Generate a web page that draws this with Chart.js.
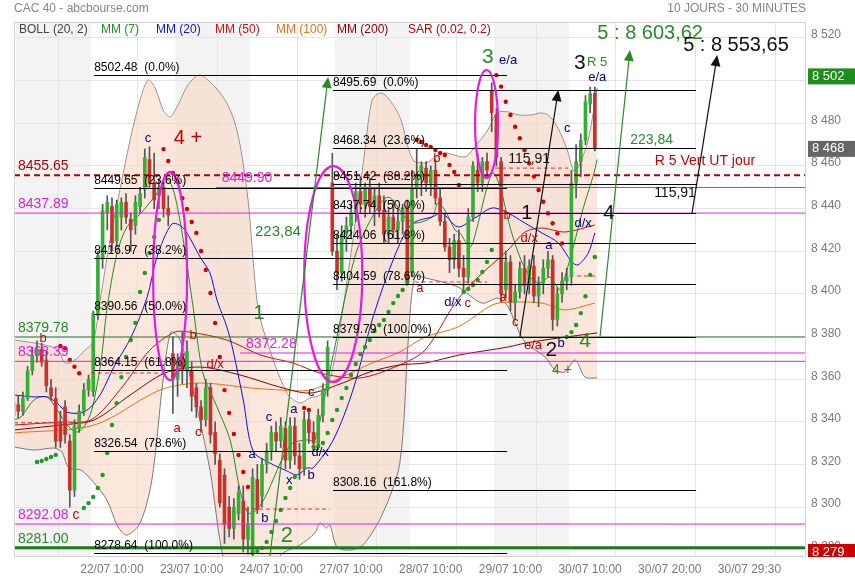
<!DOCTYPE html>
<html lang="fr">
<head>
<meta charset="UTF-8">
<title>CAC 40 - 10 jours - 30 minutes</title>
<script src="https://cdn.jsdelivr.net/npm/chart.js"></script>
<style>
  html, body { margin: 0; padding: 0; background: #fff; }
  canvas { display: block; }
</style>
</head>
<body>
<canvas id="graphique" width="855" height="580"></canvas>
<script>
// bougies de 30 minutes, index 0 = 21/07 9h00, 17 bougies par séance
const ouverture = [
  8343,8348,8345,8351,8364,8371,8374,8369,8356,8351,8340,8347,8331,8308,8337,8345,8355,
  8354,8390,8417,8438,8441,8425,8436,8443,8435,8432,8441,8449,8463,8452,8446,8450,8440,
  8372,8360,8372,8364,8364,8356,8347,8341,8356,8335,8322,8315,8300,8290,8297,8303,8285,
  8279,8313,8305,8320,8326,8335,8331,8337,8322,8338,8324,8318,8341,8335,8330,8343,8355,
  8452,8420,8410,8428,8432,8438,8448,8442,8450,8441,8446,8439,8428,8436,8430,8434,8441,
  8410,8450,8455,8459,8452,8458,8445,8434,8422,8416,8425,8412,8408,8436,8458,8452,8462,
  8495,8484,8462,8402,8415,8396,8401,8412,8404,8413,8399,8405,8412,8416,8388,8400,8406,
  8408,8452,8462,8472,8489,8494
];
const haut = [
  8352,8352,8354,8366,8375,8378,8377,8373,8360,8356,8345,8350,8334,8341,8348,8358,8362,
  8392,8420,8442,8446,8445,8444,8445,8447,8438,8446,8450,8468,8469,8466,8454,8452,8446,
  8380,8372,8382,8378,8368,8358,8350,8360,8358,8340,8325,8318,8305,8304,8310,8310,8300,
  8318,8320,8323,8330,8338,8340,8342,8340,8342,8342,8330,8345,8345,8340,8346,8358,8378,
  8466,8428,8432,8436,8442,8452,8455,8452,8454,8450,8452,8446,8440,8444,8440,8442,8444,
  8458,8468,8462,8462,8460,8463,8450,8438,8426,8428,8430,8418,8440,8462,8466,8464,8466,
  8499,8487,8464,8420,8418,8404,8415,8418,8416,8418,8408,8416,8420,8418,8403,8410,8412,
  8458,8470,8475,8493,8497,8497
];
const bas = [
  8339,8342,8343,8350,8362,8368,8366,8354,8350,8328,8328,8330,8300,8305,8335,8343,8352,
  8352,8388,8412,8430,8420,8422,8430,8433,8420,8428,8438,8445,8450,8440,8440,8436,8432,
  8344,8352,8358,8356,8345,8342,8335,8338,8330,8320,8300,8283,8286,8285,8294,8279,8278,
  8277,8297,8300,8316,8322,8326,8328,8318,8318,8320,8313,8315,8330,8326,8327,8340,8352,
  8418,8402,8406,8420,8426,8434,8438,8436,8438,8432,8436,8424,8424,8426,8424,8428,8404,
  8408,8445,8446,8448,8446,8442,8432,8420,8410,8412,8408,8402,8405,8434,8448,8448,8454,
  8476,8460,8396,8398,8392,8388,8398,8400,8400,8396,8394,8400,8408,8383,8385,8396,8402,
  8404,8445,8455,8470,8485,8467
];
const cloture = [
  8349,8345,8351,8364,8371,8374,8368,8357,8352,8331,8331,8334,8308,8338,8345,8355,8360,
  8391,8418,8439,8443,8424,8442,8443,8436,8430,8443,8447,8464,8452,8444,8450,8440,8437,
  8360,8368,8364,8373,8352,8347,8341,8356,8334,8325,8302,8292,8290,8300,8307,8285,8292,
  8314,8299,8320,8326,8335,8331,8338,8322,8338,8324,8318,8341,8335,8330,8343,8355,8375,
  8420,8410,8428,8432,8438,8448,8442,8450,8441,8446,8439,8428,8436,8430,8434,8440,8406,
  8450,8455,8460,8452,8458,8445,8434,8422,8416,8425,8412,8408,8436,8460,8452,8462,8458,
  8485,8464,8400,8415,8396,8401,8412,8404,8413,8399,8405,8412,8416,8388,8400,8406,8408,
  8452,8462,8472,8490,8494,8468
];

// moyennes mobiles et bandes de Bollinger: [index, cours]
const mm7 = [[0.1,8340.9],[1.6,8342.3],[4.4,8350.3],[7.1,8351.7],[9.3,8345.6],[11.8,8337.6],[13.5,8335.2],[15.0,8337.6],[16.7,8345.6],[18.7,8369.0],[19.9,8392.5],[22.1,8419.2],[24.2,8431.4],[27.2,8437.9],[30.0,8445.4],[31.5,8450.1],[33.0,8453.4],[34.4,8446.3],[36.2,8425.3],[38.3,8393.9],[40.4,8362.9],[43.4,8347.0],[46.2,8331.5],[48.3,8308.0],[50.0,8297.3],[51.9,8298.7],[54.1,8306.6],[57.5,8323.5],[59.6,8330.1],[62.6,8331.5],[64.3,8331.5],[67.5,8364.3],[72.8,8417.3],[76.5,8436.1],[79.9,8445.4],[83.5,8436.1],[85.6,8433.2],[89.3,8436.1],[90.5,8442.6],[92.0,8439.3],[94.2,8429.9],[95.2,8428.6],[97.4,8422.0],[98.9,8431.4],[101.0,8450.1],[102.3,8456.7],[103.8,8450.1],[105.9,8431.4],[108.0,8417.3],[110.2,8407.9],[112.3,8405.1],[114.4,8407.9],[116.6,8401.8],[117.6,8407.9],[119.4,8422.0],[121.5,8440.0],[123.6,8455.0],[124.5,8463.0]];
const mm20 = [[0.1,8352.6],[4.4,8351.7],[7.1,8351.7],[9.3,8348.8],[11.4,8344.6],[14.4,8344.2],[16.5,8347.0],[18.7,8353.5],[21.4,8365.7],[25.1,8379.8],[28.5,8398.5],[30.6,8417.3],[33.8,8432.8],[36.2,8430.9],[39.8,8417.3],[41.9,8409.8],[43.4,8397.1],[45.5,8384.5],[46.8,8373.7],[49.0,8350.3],[51.1,8326.3],[54.7,8320.7],[58.3,8317.0],[60.5,8315.1],[62.6,8318.4],[63.9,8318.4],[68.2,8331.5],[72.4,8354.9],[76.5,8387.8],[79.9,8409.8],[83.5,8428.6],[85.6,8433.7],[89.3,8436.1],[91.4,8437.9],[94.8,8431.4],[98.4,8435.6],[102.1,8440.3],[105.5,8437.9],[109.1,8433.2],[112.7,8428.6],[116.2,8423.9],[119.1,8415.0],[120.4,8413.6],[122.6,8419.2],[124.0,8428.6]];
const mm50 = [[0.1,8338.5],[9.9,8339.9],[16.5,8340.9],[22.7,8355.0],[29.1,8373.7],[34.4,8382.1],[37.6,8382.1],[45.5,8378.4],[52.6,8371.4],[59.6,8367.6],[65.4,8362.9],[73.9,8360.6],[82.4,8366.7],[87.8,8373.7],[94.2,8395.7],[98.4,8406.5],[105.5,8420.6],[109.1,8429.0],[112.7,8430.9],[117.6,8429.0],[124.0,8432.3]];
const mm100 = [[0.1,8334.8],[17.2,8338.5],[31.2,8354.9],[39.8,8358.2],[50.5,8355.9],[57.5,8354.9],[63.2,8354.9],[69.6,8360.6],[76.5,8367.6],[82.4,8372.8],[87.8,8379.8],[94.8,8384.5],[102.1,8394.8],[105.5,8396.2],[112.7,8395.7],[117.6,8392.5],[124.0,8395.7]];
const mm200 = [[0.1,8336.2],[9.9,8338.5],[17.2,8340.9],[24.9,8352.6],[32.3,8362.9],[39.8,8365.7],[48.3,8362.0],[56.8,8356.3],[63.2,8353.5],[69.6,8357.7],[76.0,8363.4],[82.4,8366.7],[87.8,8367.6],[95.2,8371.4],[105.5,8375.1],[109.1,8376.9],[116.2,8379.3],[124.5,8381.7]];
const bollHaut = [[0.1,8378.4],[6.7,8376.0],[9.5,8373.7],[11.0,8367.6],[13.1,8369.0],[15.3,8373.7],[17.0,8377.4],[18.5,8397.1],[20.6,8425.3],[22.7,8448.7],[24.9,8472.2],[27.0,8490.9],[28.7,8500.3],[30.2,8496.5],[31.9,8486.2],[33.4,8482.9],[35.1,8488.6],[37.2,8497.9],[39.6,8502.6],[41.9,8499.4],[44.7,8492.3],[46.8,8482.9],[48.3,8469.8],[50.0,8444.0],[51.9,8397.1],[53.6,8380.7],[58.3,8353.5],[61.1,8348.8],[63.2,8351.2],[65.4,8352.6],[67.9,8362.9],[71.8,8415.9],[75.0,8467.5],[76.5,8490.9],[78.2,8494.2],[79.7,8492.3],[82.4,8482.9],[85.2,8462.8],[88.2,8461.4],[89.9,8464.2],[92.0,8466.1],[96.3,8464.2],[98.4,8468.9],[101.2,8476.9],[103.1,8484.8],[105.5,8485.3],[107.6,8483.9],[110.6,8483.9],[112.3,8484.8],[114.0,8483.9],[115.5,8480.1],[117.0,8473.6],[118.3,8466.1],[119.4,8458.1],[120.4,8459.0],[122.6,8472.2],[124.5,8496.5]];
const bollBas = [[0.1,8328.2],[4.4,8326.8],[8.6,8327.7],[10.3,8325.9],[11.8,8318.4],[14.4,8317.4],[17.2,8311.3],[19.9,8303.4],[22.3,8290.7],[24.2,8286.9],[27.0,8292.6],[29.5,8312.7],[31.9,8359.6],[33.6,8382.1],[35.5,8378.4],[38.3,8354.9],[41.9,8317.4],[44.7,8276.6],[47.5,8262.0],[51.9,8255.0],[56.8,8277.1],[61.1,8282.3],[64.3,8287.9],[65.4,8292.6],[66.7,8290.2],[67.5,8291.6],[69.0,8281.3],[71.8,8279.9],[74.6,8282.3],[78.8,8297.3],[82.4,8320.7],[84.2,8378.4],[85.6,8407.9],[87.8,8407.5],[94.8,8403.2],[99.9,8395.7],[103.4,8398.0],[105.5,8393.9],[107.0,8386.4],[109.1,8377.4],[113.4,8370.4],[115.5,8364.3],[117.6,8363.4],[119.8,8369.0],[121.9,8361.0],[124.5,8360.6]];

// SAR (0.02, 0.2)
const sarRougeX = [10,11,12,13,14, 32,33,34,35,36,37,38,39,40,41,42,43,44,45,46,47,48,49,50, 62,63, 86,87,88,89,90,91,92,93,94,95, 103,104,105,106,107,108,109,110,111,112,113,114,115,116,117];
const sarRougeY = [8375.6,8374.5,8369.0,8365.9,8362.8, 8467.9,8462.3,8456.7,8452.5,8444.9,8439.8,8433.7,8428.6,8420.1,8411.2,8400.4,8386.4,8370.4,8354.9,8344.2,8334.3,8324.5,8316.5,8309.5, 8346.5,8345.6, 8472.2,8471.2,8469.8,8468.9,8467.5,8466.1,8465.1,8460.5,8457.2,8451.1, 8502.6,8497.2,8490.1,8483.9,8478.4,8473.0,8467.5,8461.2,8455.0,8448.7,8443.2,8437.8,8433.1,8428.4,8423.7];
const sarVertX = [5,6,7,8,9, 15,16,17,18,19,20,21,22,23,24,25,26,27,28,29,30,31, 51,52,53,54,55,56,57,58,59,60, 64,65,66,67,68,69,70,71,72,73,74,75,76,77,78,79,80,81,82,83,84, 96,97,98,99,100,101,102, 118,119,120,121,122,123,124];
const sarVertY = [8321.2,8321.7,8322.6,8323.5,8324.5, 8299.6,8301.9,8304.8,8309.0,8315.1,8325.4,8338.5,8348.8,8361.0,8370.4,8378.4,8386.4,8400.9,8409.8,8419.2,8426.7,8434.7, 8278.5,8279.4,8280.9,8283.7,8288.4,8293.5,8298.7,8304.3,8309.0,8314.1, 8328.2,8328.7,8330.1,8334.8,8340.9,8345.6,8351.2,8355.9,8362.0,8367.1,8371.8,8375.1,8378.4,8382.6,8385.4,8387.8,8391.5,8395.7,8399.0,8401.8,8405.6, 8400.9,8402.3,8404.2,8406.5,8410.3,8415.0,8420.6, 8379.8,8382.1,8385.4,8391.0,8398.9,8408.9,8417.3];

// retracements de Fibonacci et niveaux tracés
const fibGauche = [8502.48, 8449.65, 8416.97, 8390.56, 8364.15, 8326.54, 8278.64];
const fibGauchePct = ['0.0%', '23.6%', '38.2%', '50.0%', '61.8%', '78.6%', '100.0%'];
const fibDroite = [8495.69, 8468.34, 8451.42, 8437.74, 8424.06, 8404.59, 8379.79, 8308.16];
const fibDroitePct = ['0.0%', '23.6%', '38.2%', '50.0%', '61.8%', '78.6%', '100.0%', '161.8%'];
const niveaux = [8455.65, 8437.89, 8379.78, 8368.39, 8372.28, 8449.90, 8292.08, 8281.00];
const coursAxe = [8502, 8468, 8279];

// axe des temps
const ticksIdx = [18, 35, 52, 69, 86, 103, 120, 137, 154];
const ticksTexte = ['22/07 10:00', '23/07 10:00', '24/07 10:00', '27/07 10:00', '28/07 10:00', '29/07 10:00', '30/07 10:00', '30/07 20:00', '30/07 29:30'];
const ticksCours = [8280, 8300, 8320, 8340, 8360, 8380, 8400, 8420, 8440, 8460, 8480, 8500, 8520];

// ---------- mise en forme ----------
const VERT = '#33b033', ROUGE = '#c9302b';
const MAGENTA = '#e020e0', BLEU = '#000080', RGE = '#c80000', VRT = '#2a8a2a';
const joursGris = [[0.5, 16.5], [34.5, 50.5], [68.5, 84.5], [102.5, 118.5]];
const fibGaucheDe = [17.2, 105.3];
const fibDroiteDe = [68.15, 145.6];
const styleNiveaux = [
  { couleur: '#b00000', ep: 2, tirets: [6, 4], de: null, texte: null, taille: 14 },
  { couleur: MAGENTA, ep: 1, tirets: [], de: null, texte: null, taille: 14 },
  { couleur: '#2a7a2a', ep: 1, tirets: [], de: null, texte: null, taille: 14 },
  { couleur: MAGENTA, ep: 1, tirets: [], de: null, texte: null, taille: 14 },
  { couleur: MAGENTA, ep: 1, tirets: [], de: 48.3, texte: 49.6, taille: 14 },
  { couleur: MAGENTA, ep: 1, tirets: [], de: 43.2, texte: 44.4, taille: 14 },
  { couleur: MAGENTA, ep: 1, tirets: [], de: null, texte: null, taille: 14 },
  { couleur: '#1d7a1d', ep: 3, tirets: [], de: null, texte: null, taille: 14 }
];
const couleursAxe = ['#1e8c1e', '#666666', '#cc0000'];
const tiretsRouges = [[0.1, 16.5, 8339.6], [16.5, 32.1, 8362.9], [49.4, 67.5, 8299.1], [102.7, 118.3, 8459.0], [85.6, 101.0, 8405.6], [120.2, 124.5, 8408.4]];
const ellipses = [[33.4, 8408.4, 3.63, 48.8], [68.2, 8409.3, 6.19, 50.6], [100.9, 8479.7, 2.45, 25.3]];
const fleches = [
  [54.7, 8277.1, 67.1, 8501.7, '#2a8a2a'],
  [125.1, 8379.8, 131.5, 8514.4, '#2a8a2a'],
  [108.0, 8379.8, 116.2, 8495.6, '#111'],
  [144.7, 8437.5, 150.1, 8512.0, '#111']
];
const notes = [
  ['c', 28.7, 8473.1, BLEU, 13], ['4 +', 37.2, 8473.1, RGE, 20],
  ['b', 6.3, 8379.3, RGE, 13], ['b', 38.3, 8380.3, RGE, 13], ['d/x', 43.0, 8366.7, RGE, 13],
  ['a', 34.9, 8336.7, RGE, 13], ['c', 39.4, 8335.2, RGE, 13],
  ['a', 50.9, 8324.9, BLEU, 13], ['c', 54.5, 8342.3, BLEU, 13], ['a', 59.8, 8345.6, BLEU, 13],
  ['c', 63.5, 8354.0, '#111', 13], ['b', 53.6, 8294.9, BLEU, 13], ['x', 58.8, 8312.7, BLEU, 13],
  ['b', 63.5, 8315.1, BLEU, 13], ['d/x', 65.4, 8325.9, BLEU, 13],
  ['223,84', 56.4, 8429.0, VRT, 15], ['1', 52.4, 8391.0, VRT, 20], ['2', 58.3, 8286.5, VRT, 22],
  ['b', 90.3, 8463.3, RGE, 13], ['a', 86.7, 8402.8, RGE, 13], ['d/x', 93.7, 8396.2, BLEU, 13], ['c', 96.9, 8395.7, RGE, 13],
  ['3', 101.2, 8511.1, VRT, 21], ['e/a', 105.5, 8509.7, BLEU, 13],
  ['b', 105.3, 8437.0, RGE, 13], ['a', 104.4, 8398.5, RGE, 13], ['c', 107.0, 8386.4, RGE, 13],
  ['115,91', 110.0, 8463.3, '#111', 14], ['1', 109.5, 8437.9, '#111', 20],
  ['d/x', 110.0, 8426.2, RGE, 13], ['a', 114.2, 8422.5, BLEU, 13], ['e/a', 110.8, 8376.0, RGE, 13],
  ['2', 114.7, 8373.7, '#111', 21], ['b', 116.8, 8377.0, BLEU, 13], ['4 +', 117.0, 8364.3, VRT, 14],
  ['4', 121.9, 8377.9, VRT, 21], ['c', 118.1, 8477.8, BLEU, 13], ['d/x', 121.5, 8433.2, BLEU, 13],
  ['4', 127.0, 8437.9, '#111', 20], ['3', 120.8, 8508.3, '#111', 21], ['R 5', 124.5, 8508.7, VRT, 13],
  ['e/a', 124.5, 8501.7, BLEU, 13],
  ['223,84', 136.1, 8472.2, VRT, 14], ['R 5 Vert UT jour', 147.5, 8462.3, RGE, 14],
  ['115,91', 141.1, 8447.3, '#111', 14],
  ['5 : 8 603,62', 135.8, 8522.3, VRT, 20], ['5 : 8 553,65', 154.1, 8516.7, '#111', 20]
];
const legende = [['BOLL (20, 2)', '#444'], ['MM (7)', '#1f8f1f'], ['MM (20)', '#1010e0'], ['MM (50)', '#d01010'],
  ['MM (100)', '#f07010'], ['MM (200)', '#8b0000'], ['SAR (0.02, 0.2)', '#c00000']];
const legendeX = [19, 101, 156, 215, 276, 337, 408];

const POLICE = '"Liberation Sans", Arial, sans-serif';
Chart.defaults.font.family = POLICE;

const pts = arr => arr.map(p => ({ x: p[0], y: p[1] }));
const meches = [], corps = [], couleursCorps = [];
for (let i = 0; i < cloture.length; i++) {
  meches.push({ x: i, y: [bas[i], haut[i]] });
  corps.push({ x: i, y: [ouverture[i], cloture[i]] });
  couleursCorps.push(cloture[i] >= ouverture[i] ? VERT : ROUGE);
}
const sarRouge = sarRougeX.map((x, i) => ({ x: x, y: sarRougeY[i] }));
const sarVert = sarVertX.map((x, i) => ({ x: x, y: sarVertY[i] }));
const ligne = (data, couleur, ordre) => ({
  type: 'line', data: pts(data), borderColor: couleur, borderWidth: 1, pointRadius: 0,
  tension: 0.3, fill: false, order: ordre
});

function texte(c, t, x, y, col, px, align, base) {
  c.font = px + 'px ' + POLICE;
  c.fillStyle = col;
  c.textAlign = align || 'center';
  c.textBaseline = base || 'middle';
  c.fillText(t, x, y);
}

const annotations = {
  id: 'annotations',
  beforeDraw(chart) {
    const { ctx: c, chartArea: a, scales: { x } } = chart;
    c.save();
    c.fillStyle = '#fff';
    c.fillRect(0, 0, chart.width, chart.height);
    c.fillStyle = '#f3f3f3';
    joursGris.forEach(([d, f]) => {
      const x1 = Math.max(a.left, x.getPixelForValue(d));
      const x2 = Math.min(a.right, x.getPixelForValue(f));
      c.fillRect(x1, a.top, x2 - x1, a.bottom - a.top);
    });
    c.restore();
  },
  afterDatasetsDraw(chart) {
    const { ctx: c, chartArea: a, scales: { x, y } } = chart;
    const X = v => x.getPixelForValue(v), Y = v => y.getPixelForValue(v);
    c.save();
    c.beginPath();
    c.rect(a.left, a.top, a.right - a.left, a.bottom - a.top);
    c.clip();

    // niveaux colorés sur toute la largeur
    niveaux.forEach((v, i) => {
      const s = styleNiveaux[i];
      c.strokeStyle = s.couleur; c.lineWidth = s.ep; c.setLineDash(s.tirets);
      c.beginPath();
      c.moveTo(s.de === null ? a.left : X(s.de), Y(v));
      c.lineTo(a.right, Y(v));
      c.stroke();
    });
    c.setLineDash([]);

    // retracements
    c.strokeStyle = '#000'; c.lineWidth = 1;
    fibGauche.forEach(v => {
      c.beginPath(); c.moveTo(X(fibGaucheDe[0]), Math.round(Y(v)) + 0.5);
      c.lineTo(X(fibGaucheDe[1]), Math.round(Y(v)) + 0.5); c.stroke();
    });
    fibDroite.forEach(v => {
      c.beginPath(); c.moveTo(X(fibDroiteDe[0]), Math.round(Y(v)) + 0.5);
      c.lineTo(X(fibDroiteDe[1]), Math.round(Y(v)) + 0.5); c.stroke();
    });

    // petits tirets rouges
    c.strokeStyle = '#e03030'; c.lineWidth = 1; c.setLineDash([4, 3]);
    tiretsRouges.forEach(([d, f, v]) => {
      c.beginPath(); c.moveTo(X(d), Y(v)); c.lineTo(X(f), Y(v)); c.stroke();
    });
    c.setLineDash([]);

    // ellipses
    c.strokeStyle = '#e619e6'; c.lineWidth = 2.2;
    ellipses.forEach(([cx, cy, rx, ry]) => {
      c.beginPath();
      c.ellipse(X(cx), Y(cy), Math.abs(X(cx + rx) - X(cx)), Math.abs(Y(cy + ry) - Y(cy)), 0, 0, Math.PI * 2);
      c.stroke();
    });

    // flèches
    fleches.forEach(([x1, y1, x2, y2, col]) => {
      const px1 = X(x1), py1 = Y(y1), px2 = X(x2), py2 = Y(y2);
      const ang = Math.atan2(py2 - py1, px2 - px1), L = 11, W = 5;
      c.strokeStyle = col; c.fillStyle = col; c.lineWidth = 1.2;
      c.beginPath(); c.moveTo(px1, py1);
      c.lineTo(px2 - L * 0.6 * Math.cos(ang), py2 - L * 0.6 * Math.sin(ang)); c.stroke();
      c.beginPath(); c.moveTo(px2, py2);
      c.lineTo(px2 - L * Math.cos(ang) + W * Math.sin(ang), py2 - L * Math.sin(ang) - W * Math.cos(ang));
      c.lineTo(px2 - L * Math.cos(ang) - W * Math.sin(ang), py2 - L * Math.sin(ang) + W * Math.cos(ang));
      c.closePath(); c.fill();
    });

    // étiquettes des retracements
    fibGauche.forEach((v, i) => {
      texte(c, v.toFixed(2) + '  (' + fibGauchePct[i] + ')', X(fibGaucheDe[0]), Y(v) - 4, '#000', 12, 'left', 'alphabetic');
    });
    fibDroite.forEach((v, i) => {
      texte(c, v.toFixed(2) + '  (' + fibDroitePct[i] + ')', X(fibDroiteDe[0]), Y(v) - 4, '#000', 12, 'left', 'alphabetic');
    });

    // étiquettes des niveaux
    niveaux.forEach((v, i) => {
      const s = styleNiveaux[i];
      const col = s.couleur === '#1d7a1d' || s.couleur === '#2a7a2a' ? VRT : s.couleur;
      const px = s.texte === null ? a.left + 4 : X(s.texte);
      texte(c, v.toFixed(2), px, Y(v) - 5, col, s.taille, 'left', 'alphabetic');
      if (v === 8292.08) {
        c.font = s.taille + 'px ' + POLICE;
        const w = c.measureText(v.toFixed(2) + ' ').width;
        texte(c, 'c', px + w, Y(v) - 5, RGE, s.taille, 'left', 'alphabetic');
      }
    });

    // annotations de vagues
    notes.forEach(([t, i, v, col, px]) => texte(c, t, X(i), Y(v), col, px));
    c.restore();
  },
  afterDraw(chart) {
    const { ctx: c, chartArea: a, scales: { y } } = chart;
    c.save();
    texte(c, 'CAC 40 - abcbourse.com', a.left, 9, '#858585', 12, 'left');
    texte(c, '10 JOURS - 30 MINUTES', a.right, 9, '#858585', 12, 'right');
    legende.forEach(([t, col], i) => texte(c, t, legendeX[i], 30, col, 12, 'left'));
    c.strokeStyle = '#d2d2d2'; c.lineWidth = 1;
    c.strokeRect(a.left + 0.5, a.top + 0.5, a.right - a.left - 1, a.bottom - a.top);
    c.beginPath(); c.rect(0, 0, chart.width, a.bottom + 1); c.clip();
    coursAxe.forEach((v, i) => {
      const py = y.getPixelForValue(v);
      c.fillStyle = couleursAxe[i];
      c.fillRect(a.right + 2, py - 8, chart.width - a.right - 2, 16);
      texte(c, String(v).replace(/^(\d)(\d{3})$/, '$1 $2'), a.right + 6, py, '#fff', 13, 'left');
    });
    c.restore();
  }
};

new Chart(document.getElementById('graphique'), {
  type: 'line',
  data: {
    datasets: [
      ligne(bollHaut, '#7a7a7a', 10),
      Object.assign(ligne(bollBas, '#7a7a7a', 9), { fill: '-1', backgroundColor: 'rgba(248, 212, 190, 0.55)' }),
      ligne(mm200, '#8b0000', 6),
      ligne(mm100, '#f07010', 6),
      ligne(mm50, '#d01010', 6),
      ligne(mm20, '#1010e0', 5),
      ligne(mm7, '#1f8f1f', 5),
      { type: 'bar', data: meches, backgroundColor: '#555', barThickness: 1, grouped: false, order: 4 },
      { type: 'bar', data: corps, backgroundColor: couleursCorps, barThickness: 3, grouped: false, order: 3 },
      { type: 'scatter', data: sarRouge, pointRadius: 2.2, backgroundColor: '#d40000', borderWidth: 0, order: 2 },
      { type: 'scatter', data: sarVert, pointRadius: 2.2, backgroundColor: '#1f9a1f', borderWidth: 0, order: 2 }
    ]
  },
  options: {
    responsive: false,
    animation: false,
    devicePixelRatio: 1,
    layout: { padding: { left: 14, top: 22, right: 0, bottom: 0 } },
    plugins: { legend: { display: false }, tooltip: { enabled: false } },
    scales: {
      x: {
        type: 'linear', min: 0.1, max: 169.04, offset: false, bounds: 'data',
        grid: { color: '#e4e4e4', drawTicks: false },
        border: { display: false },
        ticks: {
          autoSkip: false, maxRotation: 0, padding: 6, labelOffset: 14,
          color: '#7a7a7a', font: { size: 12 },
          callback: v => { const k = ticksIdx.indexOf(v); return k < 0 ? '' : ticksTexte[k]; }
        },
        afterBuildTicks: s => { s.ticks = ticksIdx.map(v => ({ value: v })); },
        afterFit: s => { s.height = 24; }
      },
      y: {
        type: 'linear', position: 'right', min: 8277.1, max: 8527.5, bounds: 'data',
        grid: { color: '#e4e4e4', drawTicks: false },
        border: { display: false },
        ticks: {
          padding: 5, labelOffset: -3, color: '#7a7a7a', font: { size: 12 },
          callback: v => String(v).replace(/^(\d)(\d{3})$/, '$1 $2')
        },
        afterBuildTicks: s => { s.ticks = ticksCours.map(v => ({ value: v })); },
        afterFit: s => { s.width = 49; }
      }
    }
  },
  plugins: [annotations]
});
</script>
</body>
</html>
